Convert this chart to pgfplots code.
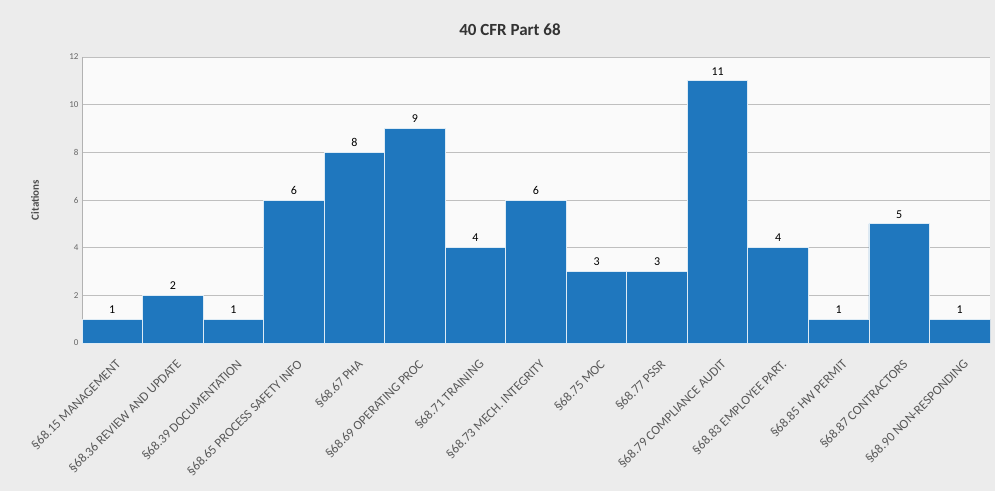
\documentclass[border=0pt]{standalone}
\usepackage{pgfplots}
\pgfplotsset{compat=1.18}
\usepackage{fontspec}
\setmainfont{Carlito}
\definecolor{barblue}{RGB}{31,119,190}
\definecolor{bg}{RGB}{236,236,236}
\begin{document}
\begin{tikzpicture}[x=1pt,y=1pt]
\fill[bg] (0,0) rectangle (995,491);
\begin{axis}[
  at={(82pt,148pt)}, anchor=south west,
  scale only axis, width=908pt, height=286pt,
  xmin=-0.5, xmax=14.5, ymin=0, ymax=12,
  axis background/.style={fill=white!96!gray},
  ytick={0,2,...,12},
  xtick={0,...,14},
  xticklabels={§68.15 MANAGEMENT,§68.36 REVIEW AND UPDATE,§68.39 DOCUMENTATION,§68.65 PROCESS SAFETY INFO,§68.67 PHA,§68.69 OPERATING PROC,§68.71 TRAINING,§68.73 MECH. INTEGRITY,§68.75 MOC,§68.77 PSSR,§68.79 COMPLIANCE AUDIT,§68.83 EMPLOYEE PART.,§68.85 HW PERMIT,§68.87 CONTRACTORS,§68.90 NON-RESPONDING},
  xticklabel style={rotate=45, anchor=north east, font=\fontsize{13}{13}\selectfont, text=black!65, inner sep=0pt, yshift=-13pt, xshift=-9pt},
  yticklabel style={font=\fontsize{9}{9}\selectfont, text=black!60},
  /pgf/number format/assume math mode=true,
  major tick length=0pt,
  ymajorgrids, grid style={black!25, line width=0.6pt},
  axis line style={black!30},
  axis x line*=bottom, axis y line*=left,
  ybar, bar width=1,
  nodes near coords,
  nodes near coords style={font=\fontsize{12}{12}\selectfont, text=black, yshift=2pt},
]
\addplot[fill=barblue, draw=white!85!barblue, line width=0.8pt] coordinates {
(0,1) (1,2) (2,1) (3,6) (4,8) (5,9) (6,4) (7,6) (8,3) (9,3) (10,11) (11,4) (12,1) (13,5) (14,1)};
\end{axis}
\node[font=\fontsize{17}{17}\selectfont\bfseries, text=black!80] at (510,461) {40 CFR Part 68};
\node[rotate=90, font=\fontsize{11}{11}\selectfont\bfseries, text=black!70] at (35,291) {Citations};
\pgfresetboundingbox
\path[use as bounding box] (0,0) rectangle (995,491);
\end{tikzpicture}
\end{document}
